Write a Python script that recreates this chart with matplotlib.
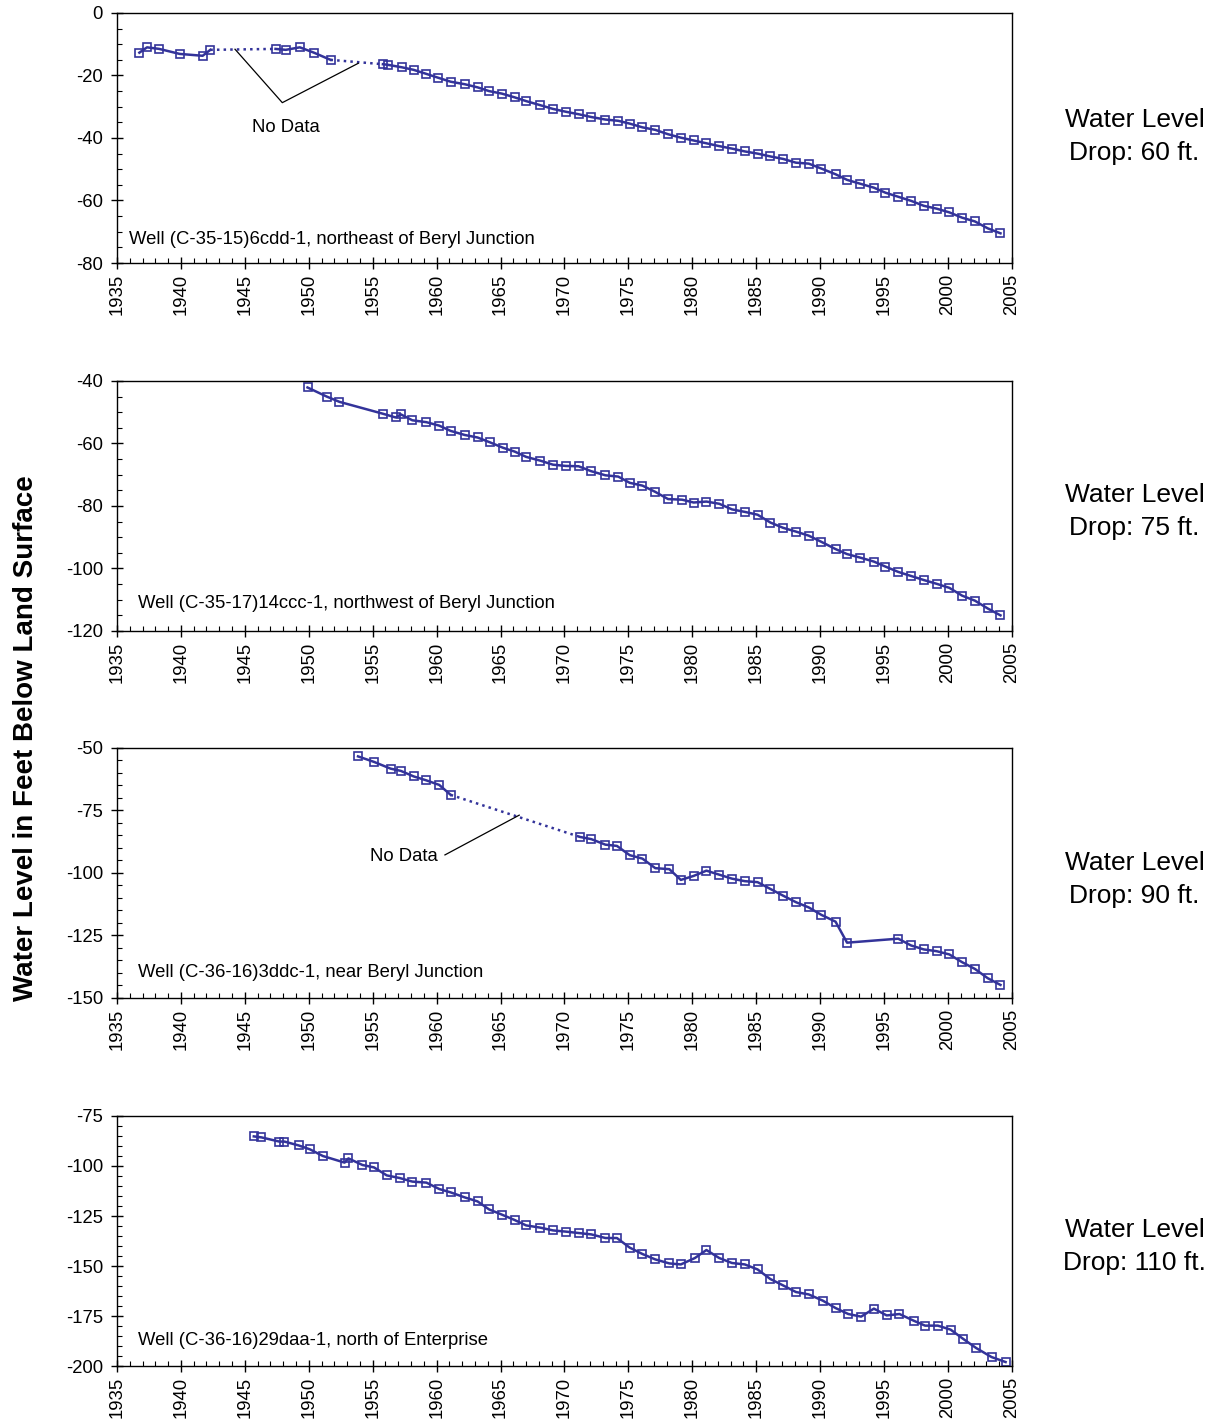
import matplotlib
matplotlib.use('Agg')
import matplotlib.pyplot as plt
from matplotlib.ticker import MultipleLocator

plt.rcParams['font.family'] = ['Liberation Sans', 'DejaVu Sans']
plt.rcParams['axes.unicode_minus'] = False

# Datos de los pozos (año, nivel del agua en pies bajo la superficie)
w1_years = [1936.75, 1937.35, 1938.3, 1939.9, 1941.7, 1942.3,
            1947.4, 1948.2, 1949.3, 1950.4, 1951.7,
            1955.8, 1956.2, 1957.3, 1958.2, 1959.2, 1960.1, 1961.1, 1962.2, 1963.2, 1964.1,
            1965.1, 1966.1, 1967.0, 1968.1, 1969.1, 1970.1, 1971.1, 1972.1, 1973.2, 1974.2,
            1975.1, 1976.1, 1977.1, 1978.1, 1979.1, 1980.1, 1981.1, 1982.1, 1983.1, 1984.1,
            1985.1, 1986.1, 1987.1, 1988.1, 1989.1, 1990.1, 1991.2, 1992.1, 1993.1, 1994.2,
            1995.1, 1996.1, 1997.1, 1998.1, 1999.1, 2000.1, 2001.1, 2002.1, 2003.1, 2004.1]
w1_levels = [-12.7, -11.0, -11.5, -13.1, -13.7, -11.8,
             -11.5, -11.8, -11.0, -12.7, -15.0,
             -16.4, -16.6, -17.4, -18.2, -19.5, -20.7, -22.0, -22.8, -23.8, -25.0,
             -25.8, -27.0, -28.2, -29.5, -30.7, -31.6, -32.4, -33.3, -34.1, -34.5,
             -35.4, -36.6, -37.4, -38.8, -39.9, -40.8, -41.7, -42.6, -43.4, -44.3,
             -45.0, -45.9, -46.7, -47.9, -48.2, -49.8, -51.6, -53.4, -54.6, -55.9,
             -57.5, -58.8, -60.1, -61.7, -62.6, -63.8, -65.5, -66.7, -68.9, -70.5]
w1_gaps = [5, 10]  # tramo punteado después de estos índices

w2_years = [1949.9, 1951.4, 1952.4, 1955.8, 1956.8, 1957.2, 1958.1, 1959.2, 1960.2, 1961.1,
            1962.2, 1963.2, 1964.2, 1965.2, 1966.1, 1967.0, 1968.1, 1969.1, 1970.1, 1971.1,
            1972.1, 1973.2, 1974.2, 1975.1, 1976.1, 1977.1, 1978.1, 1979.2, 1980.1, 1981.1,
            1982.1, 1983.1, 1984.1, 1985.1, 1986.1, 1987.1, 1988.1, 1989.1, 1990.1, 1991.2,
            1992.1, 1993.1, 1994.2, 1995.1, 1996.1, 1997.1, 1998.1, 1999.1, 2000.1, 2001.1,
            2002.1, 2003.1, 2004.1]
w2_levels = [-42.1, -45.0, -46.7, -50.5, -51.7, -50.7, -52.6, -53.2, -54.3, -56.0,
             -57.3, -58.1, -59.7, -61.4, -62.6, -64.3, -65.5, -66.8, -67.2, -67.3,
             -68.9, -70.2, -70.6, -72.6, -73.5, -75.5, -77.8, -78.0, -78.9, -78.6,
             -79.3, -81.1, -81.9, -82.8, -85.3, -87.0, -88.2, -89.5, -91.5, -93.8,
             -95.4, -96.5, -97.8, -99.4, -101.1, -102.4, -103.7, -104.9, -106.2, -108.7,
             -110.3, -112.8, -115.0]
w2_gaps = []

w3_years = [1953.85, 1955.1, 1956.4, 1957.2, 1958.2, 1959.2, 1960.2, 1961.1,
            1971.2, 1972.1, 1973.2, 1974.1, 1975.1, 1976.1, 1977.1, 1978.2, 1979.1, 1980.1,
            1981.1, 1982.1, 1983.1, 1984.1, 1985.1, 1986.1, 1987.1, 1988.1, 1989.1, 1990.1,
            1991.2, 1992.1, 1996.1, 1997.1, 1998.1, 1999.1, 2000.1, 2001.1, 2002.1, 2003.1,
            2004.1]
w3_levels = [-53.4, -55.6, -58.3, -59.2, -61.4, -63.0, -64.8, -68.8,
             -85.6, -86.5, -88.7, -89.2, -92.9, -94.3, -98.1, -98.5, -102.8, -101.2,
             -99.1, -100.7, -102.3, -103.3, -103.7, -106.4, -109.1, -111.7, -113.8, -116.8,
             -119.5, -127.9, -126.3, -129.0, -130.6, -131.3, -132.6, -135.7, -138.4, -142.1,
             -144.8]
w3_gaps = [7]

w4_years = [1945.7, 1946.3, 1947.7, 1948.1, 1949.2, 1950.1, 1951.1, 1952.8, 1953.1, 1954.2,
            1955.1, 1956.1, 1957.1, 1958.1, 1959.2, 1960.2, 1961.1, 1962.2, 1963.2, 1964.1,
            1965.1, 1966.1, 1967.0, 1968.1, 1969.1, 1970.1, 1971.1, 1972.1, 1973.2, 1974.1,
            1975.1, 1976.1, 1977.1, 1978.2, 1979.1, 1980.2, 1981.1, 1982.1, 1983.1, 1984.1,
            1985.1, 1986.1, 1987.1, 1988.1, 1989.1, 1990.2, 1991.2, 1992.2, 1993.2, 1994.2,
            1995.2, 1996.2, 1997.3, 1998.2, 1999.2, 2000.2, 2001.2, 2002.2, 2003.4, 2004.5]
w4_levels = [-85.2, -85.7, -87.8, -87.8, -89.7, -91.7, -95.0, -98.3, -96.2, -99.5,
             -100.7, -104.7, -106.0, -107.8, -108.3, -111.5, -113.2, -115.7, -117.7, -121.7,
             -124.3, -127.0, -129.7, -130.8, -132.2, -132.8, -133.5, -134.2, -136.0, -136.0,
             -140.8, -144.0, -146.7, -148.7, -149.2, -146.0, -142.0, -146.0, -148.5, -149.2,
             -151.7, -156.5, -159.7, -163.0, -164.2, -167.3, -171.0, -174.0, -175.3, -171.3,
             -174.7, -174.0, -177.3, -179.8, -179.8, -181.8, -186.5, -191.0, -195.5, -198.0]
w4_gaps = []

well_names = ['Well (C-35-15)6cdd-1, northeast of Beryl Junction',
              'Well (C-35-17)14ccc-1, northwest of Beryl Junction',
              'Well (C-36-16)3ddc-1, near Beryl Junction',
              'Well (C-36-16)29daa-1, north of Enterprise']
drops = [60, 75, 90, 110]
y_limits = [(-80, 0), (-120, -40), (-150, -50), (-200, -75)]
y_major = [20, 20, 25, 25]

color = '#33339a'

fig = plt.figure(figsize=(12.2, 14.24), dpi=100)
bottoms = [0.8153, 0.5569, 0.2992, 0.0407]
left, width, height = 0.0959, 0.7336, 0.1756
drop_pos = [0.506, 0.478, 0.474, 0.478]
label_pos = [0.095, 0.108, 0.102, 0.102]

data = [(w1_years, w1_levels, w1_gaps), (w2_years, w2_levels, w2_gaps),
        (w3_years, w3_levels, w3_gaps), (w4_years, w4_levels, w4_gaps)]

axes = []
for i, (yrs, lvls, gaps) in enumerate(data):
    ax = fig.add_axes([left, bottoms[i], width, height])
    axes.append(ax)

    # tramos sólidos y punteados
    cuts = [-1] + gaps + [len(yrs) - 1]
    for a, b in zip(cuts[:-1], cuts[1:]):
        ax.plot(yrs[a + 1:b + 1], lvls[a + 1:b + 1], color=color, lw=1.8,
                marker='s', ms=6.3, mfc='none', mec=color, mew=1.2)
    for g in gaps:
        ax.plot(yrs[g:g + 2], lvls[g:g + 2], color=color, lw=1.8, ls=':')

    ax.set_xlim(1935, 2005)
    ax.set_ylim(*y_limits[i])
    ax.xaxis.set_major_locator(MultipleLocator(5))
    ax.xaxis.set_minor_locator(MultipleLocator(1))
    ax.yaxis.set_major_locator(MultipleLocator(y_major[i]))
    ax.yaxis.set_minor_locator(MultipleLocator(5))
    ax.tick_params(which='major', direction='inout', length=8, width=1.0,
                   labelsize=13.3, pad=4)
    ax.tick_params(axis='y', which='major', pad=6)
    ax.tick_params(which='minor', direction='in', length=3.5, width=0.8)
    for lab in ax.get_xticklabels():
        lab.set_rotation(90)
    for s in ax.spines.values():
        s.set_linewidth(1.0)

    tx = 0.0134 if i == 0 else 0.0235
    ax.text(tx, label_pos[i], well_names[i], transform=ax.transAxes, fontsize=13.3,
            ha='left', va='center')

    fig.text(0.930, bottoms[i] + height * drop_pos[i], f'Water Level\nDrop: {drops[i]} ft.',
             ha='center', va='center', fontsize=19, linespacing=1.45)

# anotaciones "No Data"
ax = axes[0]
ax.plot([1944.23, 1947.93, 1953.87], [-11.6, -28.7, -16.1], color='black', lw=0.9)
ax.text(1948.2, -36.6, 'No Data', ha='center', va='center', fontsize=13.3)

ax = axes[2]
ax.plot([1960.65, 1966.46], [-92.8, -76.9], color='black', lw=0.9)
ax.text(1960.1, -93.6, 'No Data', ha='right', va='center', fontsize=13.3)

fig.text(0.021, 0.4814, 'Water Level in Feet Below Land Surface', rotation=90,
         ha='center', va='center', fontsize=20, fontweight='bold')

fig.savefig('out.png', dpi=100)
